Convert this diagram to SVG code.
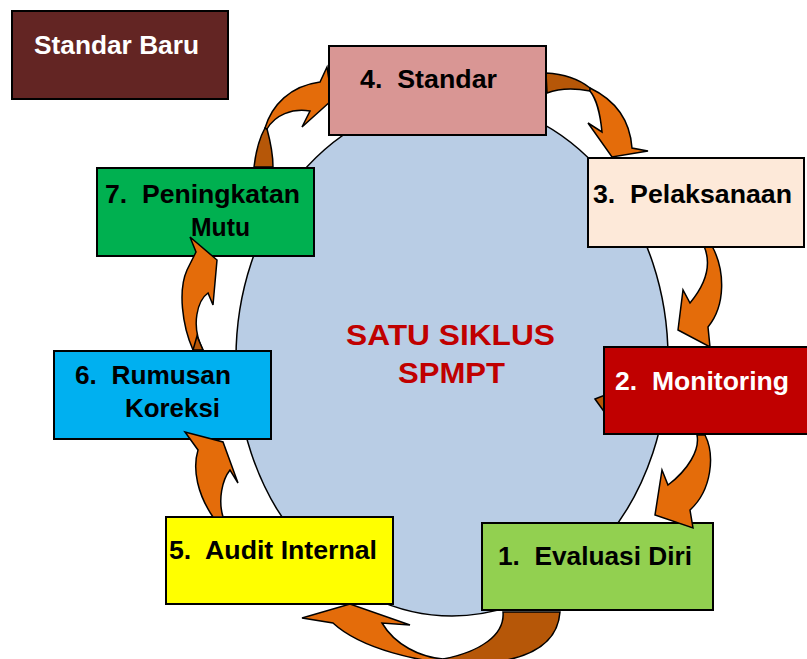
<svg xmlns="http://www.w3.org/2000/svg" width="807" height="659" viewBox="0 0 807 659">
<style>
.box{stroke:#000;stroke-width:2}
.t{font-family:"Liberation Sans",Arial,sans-serif;font-weight:bold;font-size:25px;fill:#000;white-space:pre}
.w{fill:#fff}
.c{font-family:"Liberation Sans",Arial,sans-serif;font-weight:bold;font-size:30px;fill:#C00000}
.ar{fill:#E46C0A;stroke:#000;stroke-width:1.5;stroke-linejoin:miter}
.dk{fill:#B65708;stroke:#000;stroke-width:1.5}
</style>
<rect width="807" height="659" fill="#fff"/>
<g id="cycle">
<ellipse cx="452" cy="358" rx="216" ry="258" fill="#B9CDE5" stroke="#000" stroke-width="1.5"/>
<text class="c" x="346" y="345" textLength="209" lengthAdjust="spacingAndGlyphs">SATU SIKLUS</text>
<text class="c" x="398" y="383" textLength="107" lengthAdjust="spacingAndGlyphs">SPMPT</text>
</g>
<g id="connectors-back">
<path class="dk" d="M254,167 C256,150 260,137 265,128 L267,129 C270,140 273,155 273,167 Z"/>
<path class="ar" d="M265,128 C272,105 290,86 320,82 L327,67 L332,100 L302,127 L310,111 C292,108 275,115 267,129 Z"/>
<path class="dk" d="M546,73 C565,74 580,80 590,88 L590,91 C575,88 560,88 547,93 Z"/>
<path class="ar" d="M590,88 C615,100 630,120 632,148 L648,151 L612,157 L588,123 L602,132 C600,112 597,100 590,91 Z"/>
<path class="ar" d="M712,246 C725,270 726,305 708,327 L710,347 L678,330 L683,290 L690,303 C705,285 712,265 704,246 Z"/>
<path class="dk" d="M595,399 L605,395 L605,413 Z"/>
<path class="dk" d="M560,612 C558,640 535,662 470,664 L443,659 C480,652 505,635 503,612 Z"/>
<path class="ar" d="M470,664 C420,664 360,648 333,623 L302,618 L350,604 L410,625 L382,623 C395,645 420,657 443,659 Z"/>
</g>
<g id="n-baru"><rect class="box" x="12" y="11" width="216" height="88" fill="#632523"/><text class="t w" x="34" y="54" textLength="165" lengthAdjust="spacingAndGlyphs">Standar Baru</text></g>
<g id="n4"><rect class="box" x="329" y="46" width="217" height="89" fill="#D99694"/><text class="t" x="360" y="88" textLength="137" lengthAdjust="spacingAndGlyphs">4.  Standar</text></g>
<g id="n3"><rect class="box" x="588" y="158" width="216" height="89" fill="#FDE9D9"/><text class="t" x="593" y="203" textLength="199" lengthAdjust="spacingAndGlyphs">3.  Pelaksanaan</text></g>
<g id="n2"><rect class="box" x="604" y="347" width="210" height="87" fill="#C00000"/><text class="t w" x="615" y="390" textLength="174" lengthAdjust="spacingAndGlyphs">2.  Monitoring</text></g>
<g id="n1"><rect class="box" x="482" y="523" width="231" height="87" fill="#92D050"/><text class="t" x="498" y="565" textLength="194" lengthAdjust="spacingAndGlyphs">1.  Evaluasi Diri</text></g>
<g id="n5"><rect class="box" x="166" y="517" width="227" height="87" fill="#FFFF00"/><text class="t" x="169" y="559" textLength="208" lengthAdjust="spacingAndGlyphs">5.  Audit Internal</text></g>
<g id="n6"><rect class="box" x="54" y="351" width="217" height="88" fill="#00B0F0"/><text class="t" x="75" y="384" textLength="156" lengthAdjust="spacingAndGlyphs">6.  Rumusan</text><text class="t" x="125" y="417" textLength="95" lengthAdjust="spacingAndGlyphs">Koreksi</text></g>
<g id="n7"><rect class="box" x="97" y="168" width="217" height="88" fill="#00B050"/><text class="t" x="105" y="203" textLength="195" lengthAdjust="spacingAndGlyphs">7.  Peningkatan</text><text class="t" x="191" y="236" textLength="59" lengthAdjust="spacingAndGlyphs">Mutu</text></g>
<g id="connectors-front">
<path class="ar" d="M705,435 C715,455 712,490 690,510 L693,528 L655,515 L662,470 L668,485 C688,470 700,450 697,435 Z"/>
<path class="ar" d="M213,517 C198,495 192,470 198,450 L185,432 L223,442 L238,483 L230,470 C222,480 218,500 223,517 Z"/>
<path class="ar" d="M193,350 C182,325 178,290 187,270 L196,252 L190,237 L217,260 L213,305 L208,293 C198,300 190,325 203,350 Z"/>
<path class="dk" d="M193,350 L203,350 L197,336 Z"/>
</g>
</svg>
